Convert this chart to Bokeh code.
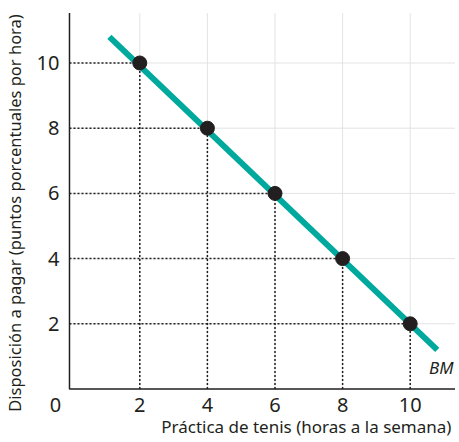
from bokeh.plotting import figure
from bokeh.models import Range1d
from bokeh.core.properties import value
from bokeh.embed import file_html
from bokeh.resources import INLINE

# ---- data ----
hours = [2, 4, 6, 8, 10]
willingness = [10, 8, 6, 4, 2]
bm_x = [1.1, 10.8]
bm_y = [10.8, 1.2]
x_ticks = [2, 4, 6, 8, 10]
y_ticks = [2, 4, 6, 8, 10]
x_tick_labels = ["2", "4", "6", "8", "10"]
y_tick_labels = ["2", "4", "6", "8", "10"]
x_title = "Práctica de tenis (horas a la semana)"
y_title = "Disposición a pagar (puntos porcentuales por hora)"
curve_label = "BM"

FONT = "Noto Sans"
INK = "#231f20"
TEAL = "#00a99d"
GRID = "#e3e3e3"

W, H = 455, 438
p = figure(width=W, height=H, output_backend="svg", toolbar_location=None,
           x_range=Range1d(-2.121, 11.34), y_range=Range1d(-1.518, 11.917),
           min_border=0)
p.min_border_left = p.min_border_right = p.min_border_top = p.min_border_bottom = 0
p.axis.visible = False
p.grid.visible = False
p.outline_line_color = None
p.background_fill_color = "white"
p.border_fill_color = "white"

X_AX = -0.08   # y-axis line position
Y_TOP = 11.53  # top of the y axis
X_END = 11.45  # right end of the x axis

# light grid
p.segment(x0=x_ticks, y0=[0] * len(x_ticks), x1=x_ticks, y1=[Y_TOP] * len(x_ticks),
          line_color=GRID, line_width=1)
p.segment(x0=[X_AX] * len(y_ticks), y0=y_ticks, x1=[X_END] * len(y_ticks), y1=y_ticks,
          line_color=GRID, line_width=1)

# dotted guides
n = len(hours)
p.segment(x0=[X_AX] * n, y0=willingness, x1=hours, y1=willingness,
          line_color=INK, line_width=1.5, line_dash="2 2")
p.segment(x0=hours, y0=[0] * n, x1=hours, y1=willingness,
          line_color=INK, line_width=1.5, line_dash="2 2")

# axes lines
p.line([X_AX, X_AX, X_END], [Y_TOP, 0, 0], line_color=INK, line_width=1.5)

# BM line
p.line(bm_x, bm_y, line_color=TEAL, line_width=6)

# points
p.scatter(hours, willingness, size=14, fill_color=INK, line_color=INK)

# tick labels
p.text(x=x_ticks, y=[-0.49] * len(x_ticks), text=x_tick_labels,
       text_font=value(FONT), text_font_size="20px", text_color=INK,
       text_align="center", text_baseline="middle")
p.text(x=[-0.376] * len(y_ticks), y=y_ticks, text=y_tick_labels,
       text_font=value(FONT), text_font_size="20px", text_color=INK,
       text_align="right", text_baseline="middle")
p.text(x=[-0.494], y=[-0.49], text=["0"],
       text_font=value(FONT), text_font_size="20px", text_color=INK,
       text_align="center", text_baseline="middle")

# axis titles
p.text(x=[11.22], y=[-1.14], text=[x_title],
       text_font=value(FONT), text_font_size="17px", text_color=INK,
       text_align="right", text_baseline="middle")
p.text(x=[-1.70], y=[5.40], text=[y_title], angle=1.5708,
       text_font=value(FONT), text_font_size="16.5px", text_color=INK,
       text_align="center", text_baseline="middle")

# curve label
p.text(x=[11.28], y=[0.66], text=[curve_label],
       text_font=value(FONT), text_font_size="17px", text_font_style="italic",
       text_color=INK, text_align="right", text_baseline="middle")

open("out.html", "w").write(file_html(p, INLINE))
